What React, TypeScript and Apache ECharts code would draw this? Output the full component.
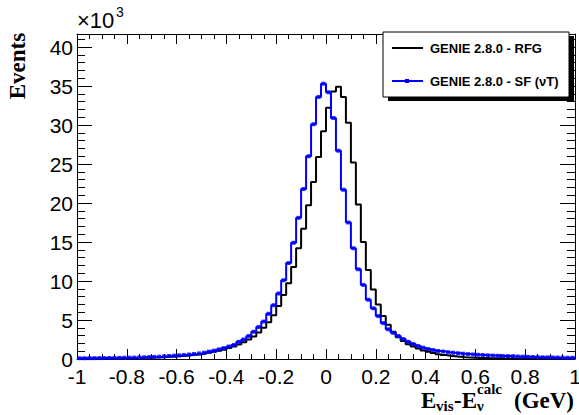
import React, { useEffect, useRef } from "react";
import * as echarts from "echarts";

// Histogram: 100 bins of width 0.02 GeV from -1 to 1. Values in thousands of events.
const xMin = -1;
const binWidth = 0.02;

const rfgCounts = [
  0.04, 0.04, 0.05, 0.05, 0.06, 0.06, 0.07, 0.08, 0.09, 0.1,
  0.11, 0.12, 0.14, 0.16, 0.18, 0.2, 0.23, 0.26, 0.29, 0.33,
  0.37, 0.42, 0.48, 0.55, 0.62, 0.7, 0.8, 0.92, 1.05, 1.2,
  1.4, 1.6, 1.85, 2.15, 2.5, 2.9, 3.4, 4.0, 4.7, 5.6,
  6.8, 8.2, 9.7, 11.8, 14.2, 16.7, 19.7, 22.7, 25.9, 29.2,
  32.2, 34.3, 34.9, 33.6, 30.3, 25.2, 19.8, 15.0, 11.4, 8.9,
  7.0, 5.5, 4.4, 3.5, 2.8, 2.3, 1.9, 1.6, 1.35, 1.1,
  0.92, 0.76, 0.62, 0.5, 0.42, 0.35, 0.28, 0.23, 0.19, 0.16,
  0.14, 0.12, 0.1, 0.09, 0.08, 0.07, 0.06, 0.06, 0.05, 0.05,
  0.04, 0.04, 0.04, 0.03, 0.03, 0.03, 0.03, 0.02, 0.02, 0.02,
];

const sfCounts = [
  0.1, 0.1, 0.11, 0.11, 0.12, 0.12, 0.13, 0.14, 0.15, 0.16,
  0.17, 0.18, 0.2, 0.22, 0.24, 0.27, 0.3, 0.34, 0.39, 0.43,
  0.47, 0.52, 0.58, 0.64, 0.72, 0.81, 0.94, 1.07, 1.23, 1.4,
  1.6, 1.8, 2.2, 2.5, 2.95, 3.5, 4.1, 4.8, 5.8, 6.9,
  8.4, 10.1, 12.3, 14.9, 18.1, 21.8, 26.0, 30.1, 33.6, 35.3,
  34.2, 30.9, 26.7, 21.7, 17.5, 14.2, 11.5, 9.5, 7.6, 6.5,
  5.5, 4.6, 3.8, 3.35, 2.95, 2.56, 2.2, 1.92, 1.67, 1.45,
  1.28, 1.15, 1.03, 0.95, 0.87, 0.8, 0.74, 0.68, 0.63, 0.58,
  0.54, 0.5, 0.47, 0.44, 0.41, 0.39, 0.37, 0.34, 0.32, 0.3,
  0.28, 0.26, 0.24, 0.22, 0.21, 0.2, 0.18, 0.17, 0.16, 0.15,
];

const legendLabels = ["GENIE 2.8.0 - RFG", "GENIE 2.8.0 - SF (\u03bdT)"];
const yMax = 41.67;

function outline(counts: number[]): number[][] {
  const pts: number[][] = [];
  counts.forEach((c, i) => {
    const lo = +(xMin + i * binWidth).toFixed(4);
    const hi = +(xMin + (i + 1) * binWidth).toFixed(4);
    pts.push([lo, c], [hi, c]);
  });
  return pts;
}

function centers(counts: number[]): number[][] {
  return counts.map((c, i) => [+(xMin + (i + 0.5) * binWidth).toFixed(4), c]);
}

export default function App() {
  const ref = useRef<HTMLDivElement>(null);
  useEffect(() => {
    document.body.style.margin = "0";
    if (!ref.current) return;
    const chart = echarts.init(ref.current, null, { renderer: "svg" });
    const sans = "Liberation Sans, Arial, sans-serif";
    const serif = "Liberation Serif, Times New Roman, serif";
    const axisLine = { show: true, onZero: false, lineStyle: { color: "#000", width: 1 } };
    const xBase = {
      type: "value" as const,
      min: -1,
      max: 1,
      interval: 0.2,
      axisLine,
      splitLine: { show: false },
      axisTick: { show: true, inside: true, length: 10, lineStyle: { color: "#000" } },
      minorTick: { show: true, splitNumber: 4, length: 5, lineStyle: { color: "#000" } },
    };
    const yMajor = {
      type: "value" as const,
      min: 0,
      max: yMax,
      interval: 5,
      axisLine,
      splitLine: { show: false },
      axisTick: { show: true, inside: true, length: 15, lineStyle: { color: "#000" } },
    };
    const yMinor = {
      type: "value" as const,
      min: 0,
      max: yMax,
      interval: 1,
      axisLine: { show: false, onZero: false },
      splitLine: { show: false },
      axisLabel: { show: false },
      axisTick: { show: true, inside: true, length: 8, lineStyle: { color: "#000" } },
    };
    chart.setOption({
      animation: false,
      grid: { left: 77, right: 4, top: 34, bottom: 56, containLabel: false, outerBoundsMode: "none" },
      xAxis: [
        {
          ...xBase,
          position: "bottom",
          axisLabel: {
            show: true,
            color: "#000",
            fontFamily: sans,
            fontSize: 21,
            margin: 7,
            formatter: (v: number) => String(Number(v.toFixed(2))),
          },
        },
        { ...xBase, position: "top", axisLabel: { show: false } },
      ],
      yAxis: [
        {
          ...yMajor,
          position: "left",
          axisLabel: {
            show: true,
            color: "#000",
            fontFamily: sans,
            fontSize: 21,
            margin: 4,
            showMaxLabel: false,
            formatter: (v: number) => String(Math.round(v)),
          },
        },
        { ...yMinor, position: "left" },
        { ...yMajor, position: "right", axisLabel: { show: false } },
        { ...yMinor, position: "right" },
      ],
      series: [
        {
          type: "line",
          data: outline(rfgCounts),
          showSymbol: false,
          symbol: "none",
          lineStyle: { color: "#000", width: 2 },
          z: 2,
        },
        {
          type: "line",
          data: outline(sfCounts),
          showSymbol: false,
          symbol: "none",
          lineStyle: { color: "#0000ff", width: 2 },
          z: 3,
        },
        {
          type: "scatter",
          data: centers(sfCounts),
          symbol: "rect",
          symbolSize: 4,
          itemStyle: { color: "#0000ff" },
          z: 4,
        },
      ],
      graphic: [
        { type: "rect", shape: { x: 388, y: 36, width: 186, height: 65 }, style: { fill: "#000" }, z: 10 },
        { type: "rect", shape: { x: 383, y: 32, width: 186, height: 65 }, style: { fill: "#fff", stroke: "#000", lineWidth: 1 }, z: 11 },
        { type: "line", shape: { x1: 392, y1: 48, x2: 423, y2: 48 }, style: { stroke: "#000", lineWidth: 2 }, z: 12 },
        { type: "text", x: 430, y: 48, style: { text: legendLabels[0], font: `bold 13px ${sans}`, fill: "#000", verticalAlign: "middle" }, z: 12 },
        { type: "line", shape: { x1: 392, y1: 81, x2: 423, y2: 81 }, style: { stroke: "#0000ff", lineWidth: 2 }, z: 12 },
        { type: "rect", shape: { x: 405, y: 79, width: 4, height: 4 }, style: { fill: "#0000ff" }, z: 12 },
        { type: "text", x: 430, y: 81, style: { text: legendLabels[1], font: `bold 13px ${sans}`, fill: "#000", verticalAlign: "middle" }, z: 12 },
        { type: "text", x: 77, y: 20, style: { text: "\u00d710", font: `22px ${sans}`, fill: "#000", verticalAlign: "middle" } },
        { type: "text", x: 116, y: 12, style: { text: "3", font: `14px ${sans}`, fill: "#000", verticalAlign: "middle" } },
        { type: "text", x: 17, y: 66, rotation: Math.PI / 2, style: { text: "Events", font: `bold 23px ${serif}`, fill: "#000", align: "center", verticalAlign: "middle" } },
        // x axis title: E_vis - E_nu^calc (GeV)
        { type: "text", x: 421, y: 400, style: { text: "E", font: `bold 23px ${serif}`, fill: "#000", verticalAlign: "middle" } },
        { type: "text", x: 436, y: 406, style: { text: "vis", font: `bold 15px ${serif}`, fill: "#000", verticalAlign: "middle" } },
        { type: "text", x: 454, y: 400, style: { text: "-E", font: `bold 23px ${serif}`, fill: "#000", verticalAlign: "middle" } },
        { type: "text", x: 477, y: 406, style: { text: "\u03bd", font: `bold 15px ${serif}`, fill: "#000", verticalAlign: "middle" } },
        { type: "text", x: 477, y: 389, style: { text: "calc", font: `bold 15px ${serif}`, fill: "#000", verticalAlign: "middle" } },
        { type: "text", x: 574, y: 400, style: { text: "(GeV)", font: `bold 23px ${serif}`, fill: "#000", align: "right", verticalAlign: "middle" } },
      ],
    });
    return () => chart.dispose();
  }, []);
  return <div ref={ref} style={{ width: 579, height: 415 }} />;
}
